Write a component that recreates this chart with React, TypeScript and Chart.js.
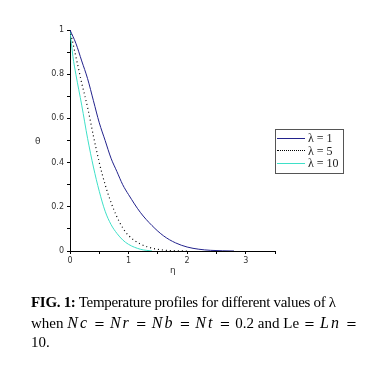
import React, { useEffect, useRef } from "react";
import { Chart, registerables } from "chart.js";

Chart.register(...registerables);

// λ = 1
const eta1 = [0, 0.1, 0.2, 0.3, 0.4, 0.5, 0.6, 0.7, 0.8, 0.9, 1.0, 1.2, 1.4, 1.6, 1.8, 2.0, 2.2, 2.4, 2.6, 2.8];
const theta1 = [1, 0.94, 0.86, 0.78, 0.68, 0.58, 0.5, 0.42, 0.36, 0.3, 0.255, 0.175, 0.115, 0.068, 0.037, 0.018, 0.008, 0.003, 0.001, 0];
// λ = 5
const eta5 = [0, 0.1, 0.2, 0.3, 0.4, 0.5, 0.6, 0.7, 0.8, 0.9, 1.0, 1.2, 1.4, 1.6, 1.8, 2.0];
const theta5 = [1, 0.88, 0.76, 0.65, 0.52, 0.4, 0.3, 0.22, 0.155, 0.105, 0.07, 0.032, 0.013, 0.004, 0.001, 0];
// λ = 10
const eta10 = [0, 0.05, 0.1, 0.2, 0.3, 0.4, 0.5, 0.6, 0.7, 0.8, 0.9, 1.0, 1.2, 1.4];
const theta10 = [1, 0.88, 0.8, 0.66, 0.51, 0.38, 0.27, 0.18, 0.12, 0.08, 0.05, 0.03, 0.008, 0];

const seriesLabels = ["λ = 1", "λ = 5", "λ = 10"];
const xTickLabels = ["0", "1", "2", "3"];
const yTickLabels = ["0", "0.2", "0.4", "0.6", "0.8", "1"];

const toPts = (xs: number[], ys: number[]) => xs.map((x, i) => ({ x, y: ys[i] }));

export default function App() {
  const ref = useRef<HTMLCanvasElement>(null);
  useEffect(() => {
    const tickFont = { family: "DejaVu Sans", size: 8 };
    const chart = new Chart(ref.current!, {
      type: "line",
      data: {
        datasets: [
          { label: seriesLabels[0], data: toPts(eta1, theta1), borderColor: "#22228c", borderWidth: 1, pointRadius: 0, cubicInterpolationMode: "monotone" },
          { label: seriesLabels[1], data: toPts(eta5, theta5), borderColor: "#000000", borderWidth: 1.2, borderDash: [1, 3], pointRadius: 0, cubicInterpolationMode: "monotone" },
          { label: seriesLabels[2], data: toPts(eta10, theta10), borderColor: "#3ee0c8", borderWidth: 1, pointRadius: 0, cubicInterpolationMode: "monotone" },
        ],
      },
      options: {
        animation: false,
        responsive: false,
        devicePixelRatio: 1,
        layout: { padding: { left: 0, top: 30, right: 98, bottom: 0 } },
        plugins: { legend: { display: false }, tooltip: { enabled: false } },
        scales: {
          x: {
            type: "linear",
            min: 0,
            max: 3.5,
            afterFit: (s: any) => { s.height = 34; },
            border: { display: true, color: "#000", width: 1 },
            grid: { display: true, drawOnChartArea: false, drawTicks: true, tickLength: 3, color: "#000" },
            ticks: {
              stepSize: 0.5,
              autoSkip: false,
              maxRotation: 0,
              padding: 2,
              color: "#333",
              font: tickFont,
              callback: (v: any) => {
                const n = Math.round(Number(v) * 2);
                return n % 2 === 0 ? xTickLabels[n / 2] ?? "" : "";
              },
            },
          },
          y: {
            type: "linear",
            min: 0,
            max: 1,
            afterFit: (s: any) => { s.width = 70; },
            border: { display: true, color: "#000", width: 1 },
            grid: { display: true, drawOnChartArea: false, drawTicks: true, tickLength: 3, color: "#000" },
            ticks: {
              stepSize: 0.1,
              autoSkip: false,
              padding: 3,
              color: "#333",
              font: tickFont,
              callback: (v: any) => {
                const n = Math.round(Number(v) * 10);
                return n % 2 === 0 ? yTickLabels[n / 2] ?? "" : "";
              },
            },
          },
        },
      },
    });
    return () => chart.destroy();
  }, []);

  const legendRow = (label: string, style: React.CSSProperties) => (
    <div style={{ display: "flex", alignItems: "center", height: 12.5 }}>
      <div style={{ width: 28, height: 0, marginLeft: 1, marginRight: 3, ...style }} />
      <span>{label}</span>
    </div>
  );

  const m = (text: string) => (
    <span style={{ fontStyle: "italic", fontSize: 16, letterSpacing: 2 }}>{text}</span>
  );
  const eq = (last = false) => (
    <span style={{ fontFamily: "DejaVu Sans", fontSize: 13, marginLeft: 5, marginRight: last ? 0 : 5 }}>=</span>
  );

  return (
    <div style={{ position: "fixed", left: 0, top: 0, width: 373, height: 371, background: "#fff", overflow: "hidden" }}>
      <canvas ref={ref} width={373} height={285} style={{ position: "absolute", left: 0, top: 0 }} />
      <div style={{ position: "absolute", left: 35, top: 136, fontFamily: "DejaVu Sans", fontSize: 9, color: "#333" }}>θ</div>
      <div style={{ position: "absolute", left: 170, top: 265, fontFamily: "DejaVu Sans", fontSize: 9, color: "#333" }}>η</div>
      <div style={{ position: "absolute", left: 275, top: 129, width: 67, height: 41, border: "1px solid #555", fontFamily: "Liberation Serif", fontSize: 12, color: "#222", paddingTop: 2, boxSizing: "content-box", lineHeight: "12.5px" }}>
        {legendRow(seriesLabels[0], { borderTop: "1px solid #22228c" })}
        {legendRow(seriesLabels[1], { borderTop: "1px dotted #000" })}
        {legendRow(seriesLabels[2], { borderTop: "1px solid #3ee0c8" })}
      </div>
      <div style={{ position: "absolute", left: 31, top: 293, fontFamily: "Liberation Serif", fontSize: 15, lineHeight: "19.5px", color: "#000", whiteSpace: "nowrap" }}>
        <div style={{ letterSpacing: -0.3 }}>
          <b>FIG. 1:</b> Temperature profiles for different values of λ
        </div>
        <div>
          when {m("Nc")}{eq()}{m("Nr")}{eq()}{m("Nb")}{eq()}{m("Nt")}{eq()}0.2 and Le{eq()}{m("Ln")}{eq(true)}
        </div>
        <div>10.</div>
      </div>
    </div>
  );
}
